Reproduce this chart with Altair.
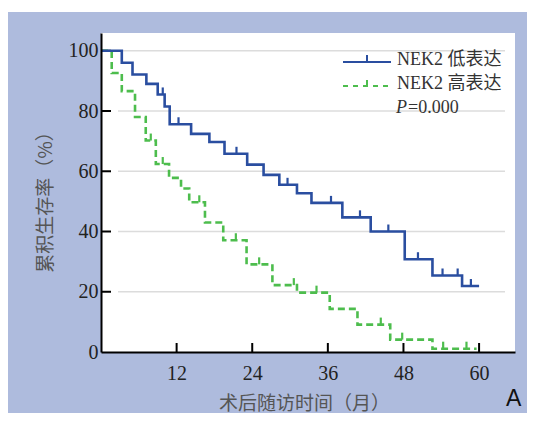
import altair as alt
import pandas as pd

# ---- data ----
low_t = [0, 3.3, 5.0, 7.2, 9.0, 10.1, 10.9, 14.3, 17.2, 19.6, 23.2, 25.8, 28.3, 31.1, 33.4, 38.3, 42.8, 48.2, 52.6, 57.3, 60.0]
low_s = [100, 96.0, 92.1, 89.0, 85.5, 81.5, 75.6, 72.4, 69.7, 65.8, 62.2, 58.8, 55.5, 52.7, 49.5, 44.7, 40.0, 30.8, 25.4, 21.9, 21.9]
low_cens_t = [9.8, 12.3, 21.5, 29.6, 36.5, 41.1, 45.6, 50.3, 54.2, 56.6, 58.7]

high_t = [0, 1.7, 3.3, 5.4, 7.1, 8.7, 10.8, 12.7, 14.0, 16.5, 19.4, 23.1, 27.2, 31.1, 36.3, 40.7, 45.9, 52.6, 59.6]
high_s = [100, 92.6, 86.6, 78.0, 70.2, 62.4, 57.8, 54.3, 49.7, 43.0, 37.1, 29.1, 22.2, 19.7, 14.3, 9.1, 4.1, 1.1, 1.1]
high_cens_t = [7.9, 9.8, 15.6, 21.4, 25.1, 30.6, 34.2, 44.4, 47.8, 54.3, 58.0]

x_ticks = [12, 24, 36, 48, 60]
y_ticks = [0, 20, 40, 60, 80, 100]
grid_vals = [20, 40, 60, 80, 100]

legend_low = "NEK2 低表达"
legend_high = "NEK2 高表达"
p_label = "=0.000"

BLUE = "#2a4ea0"
GREEN = "#4dbd4d"
BG = "#aebbdd"
W, H = 414, 319
PAD = {"left": 93, "top": 25, "right": 12, "bottom": 61}


def level_at(ts, ss, t):
    lv = ss[0]
    for a, b in zip(ts, ss):
        if a <= t:
            lv = b
    return lv


low_df = pd.DataFrame({"t": low_t, "s": low_s})
high_df = pd.DataFrame({"t": high_t, "s": high_s})
low_c = pd.DataFrame({"t": low_cens_t, "s": [level_at(low_t, low_s, t) for t in low_cens_t]})
high_c = pd.DataFrame({"t": high_cens_t, "s": [level_at(high_t, high_s, t) for t in high_cens_t]})
one = pd.DataFrame({"k": [0]})

xscale = alt.Scale(domain=[0, 65.7], nice=False, zero=False)
yscale = alt.Scale(domain=[0, 105.9], nice=False)

xaxis = alt.Axis(values=x_ticks, ticks=False, tickSize=0, grid=False, domainColor="black",
                 domainWidth=2, labelFont="Liberation Serif", labelFontSize=20, labelColor="#222",
                 labelPadding=11, labelFlush=False, zindex=1,
                 title="术后随访时间（月）", titleFont="Noto Sans CJK SC", titleFontSize=19,
                 titleFontWeight="normal", titleColor="#555", titleX=203, titleY=51,
                 titleAlign="center", titleBaseline="middle")
yaxis = alt.Axis(values=y_ticks, ticks=False, tickSize=0, grid=False, domainColor="black",
                 domainWidth=2, labelFont="Liberation Serif", labelFontSize=20, labelColor="#222",
                 labelPadding=3, labelFlush=False, zindex=1,
                 title="累积生存率（%）", titleFont="Noto Sans CJK SC", titleFontSize=19,
                 titleFontWeight="normal", titleColor="#555", titleX=-56, titleY=164,
                 titleAngle=-90, titleAlign="center", titleBaseline="middle")

X = alt.X("t:Q", scale=xscale, axis=xaxis)
Y = alt.Y("s:Q", scale=yscale, axis=yaxis)

bg = alt.Chart(one).mark_rect(color=BG).encode(
    x=alt.value(-93), x2=alt.value(W + PAD["right"]), y=alt.value(-21), y2=alt.value(H + PAD["bottom"]))
plotbg = alt.Chart(one).mark_rect(color="white").encode(
    x=alt.value(0), x2=alt.value(W), y=alt.value(0), y2=alt.value(H))

grid = alt.Chart(pd.DataFrame({"s": grid_vals})).mark_rule(color="#dcdcdc", strokeWidth=1.5).encode(
    y=Y, x=alt.value(17), x2=alt.value(404))
yt = alt.Chart(pd.DataFrame({"s": grid_vals})).mark_rule(color="black", strokeWidth=2).encode(
    y=Y, x=alt.value(0), x2=alt.value(10))
xt = alt.Chart(pd.DataFrame({"t": x_ticks})).mark_rule(color="black", strokeWidth=2).encode(
    x=X, y=alt.value(H), y2=alt.value(H - 9))

high_line = alt.Chart(high_df).mark_line(interpolate="step-after", color=GREEN, strokeWidth=2.6,
                                         strokeDash=[7, 4]).encode(x=X, y=Y)
low_line = alt.Chart(low_df).mark_line(interpolate="step-after", color=BLUE, strokeWidth=2.6).encode(x=X, y=Y)

high_ct = alt.Chart(high_c).mark_tick(orient="vertical", color=GREEN, thickness=2.2, size=7,
                                      yOffset=-3.5, opacity=1).encode(x=X, y=Y)
low_ct = alt.Chart(low_c).mark_tick(orient="vertical", color=BLUE, thickness=2.2, size=7,
                                    yOffset=-3.5, opacity=1).encode(x=X, y=Y)

# legend
lg_low = alt.Chart(one).mark_rule(color=BLUE, strokeWidth=2).encode(
    x=alt.value(242), x2=alt.value(290), y=alt.value(29))
lg_low_t = alt.Chart(one).mark_rule(color=BLUE, strokeWidth=2).encode(
    x=alt.value(266), y=alt.value(22), y2=alt.value(29))
lg_high = alt.Chart(one).mark_rule(color=GREEN, strokeWidth=2, strokeDash=[5, 5]).encode(
    x=alt.value(242), x2=alt.value(292), y=alt.value(53))
lg_high_t = alt.Chart(one).mark_rule(color=GREEN, strokeWidth=2).encode(
    x=alt.value(266), y=alt.value(47), y2=alt.value(53))

FONT = "Liberation Serif, Noto Sans CJK SC"
txt_low = alt.Chart(one).mark_text(text=legend_low, font=FONT, fontSize=18, color="#333",
                                   align="left", baseline="middle").encode(x=alt.value(296), y=alt.value(27))
txt_high = alt.Chart(one).mark_text(text=legend_high, font=FONT, fontSize=18, color="#333",
                                    align="left", baseline="middle").encode(x=alt.value(296), y=alt.value(50.5))
txt_p = alt.Chart(one).mark_text(text="P", font="Liberation Serif", fontStyle="italic", fontSize=18,
                                 color="#333", align="left", baseline="middle").encode(
    x=alt.value(295), y=alt.value(74.5))
txt_pv = alt.Chart(one).mark_text(text=p_label, font="Liberation Serif", fontSize=18, color="#333",
                                  align="left", baseline="middle").encode(x=alt.value(307), y=alt.value(74.5))
txt_a = alt.Chart(one).mark_text(text="A", font="Liberation Sans", fontSize=23, color="#111",
                                 align="left", baseline="alphabetic").encode(x=alt.value(405), y=alt.value(373))

chart = alt.layer(
    bg, plotbg, grid, yt, xt, high_line, low_line, high_ct, low_ct,
    lg_low, lg_low_t, lg_high, lg_high_t, txt_low, txt_high, txt_p, txt_pv, txt_a
).properties(
    width=W, height=H,
    autosize=alt.AutoSizeParams(type="none"),
    padding=PAD,
    background="white",
).configure_view(stroke=None)

chart.save("out.html", embed_options={"renderer": "svg", "actions": False})
